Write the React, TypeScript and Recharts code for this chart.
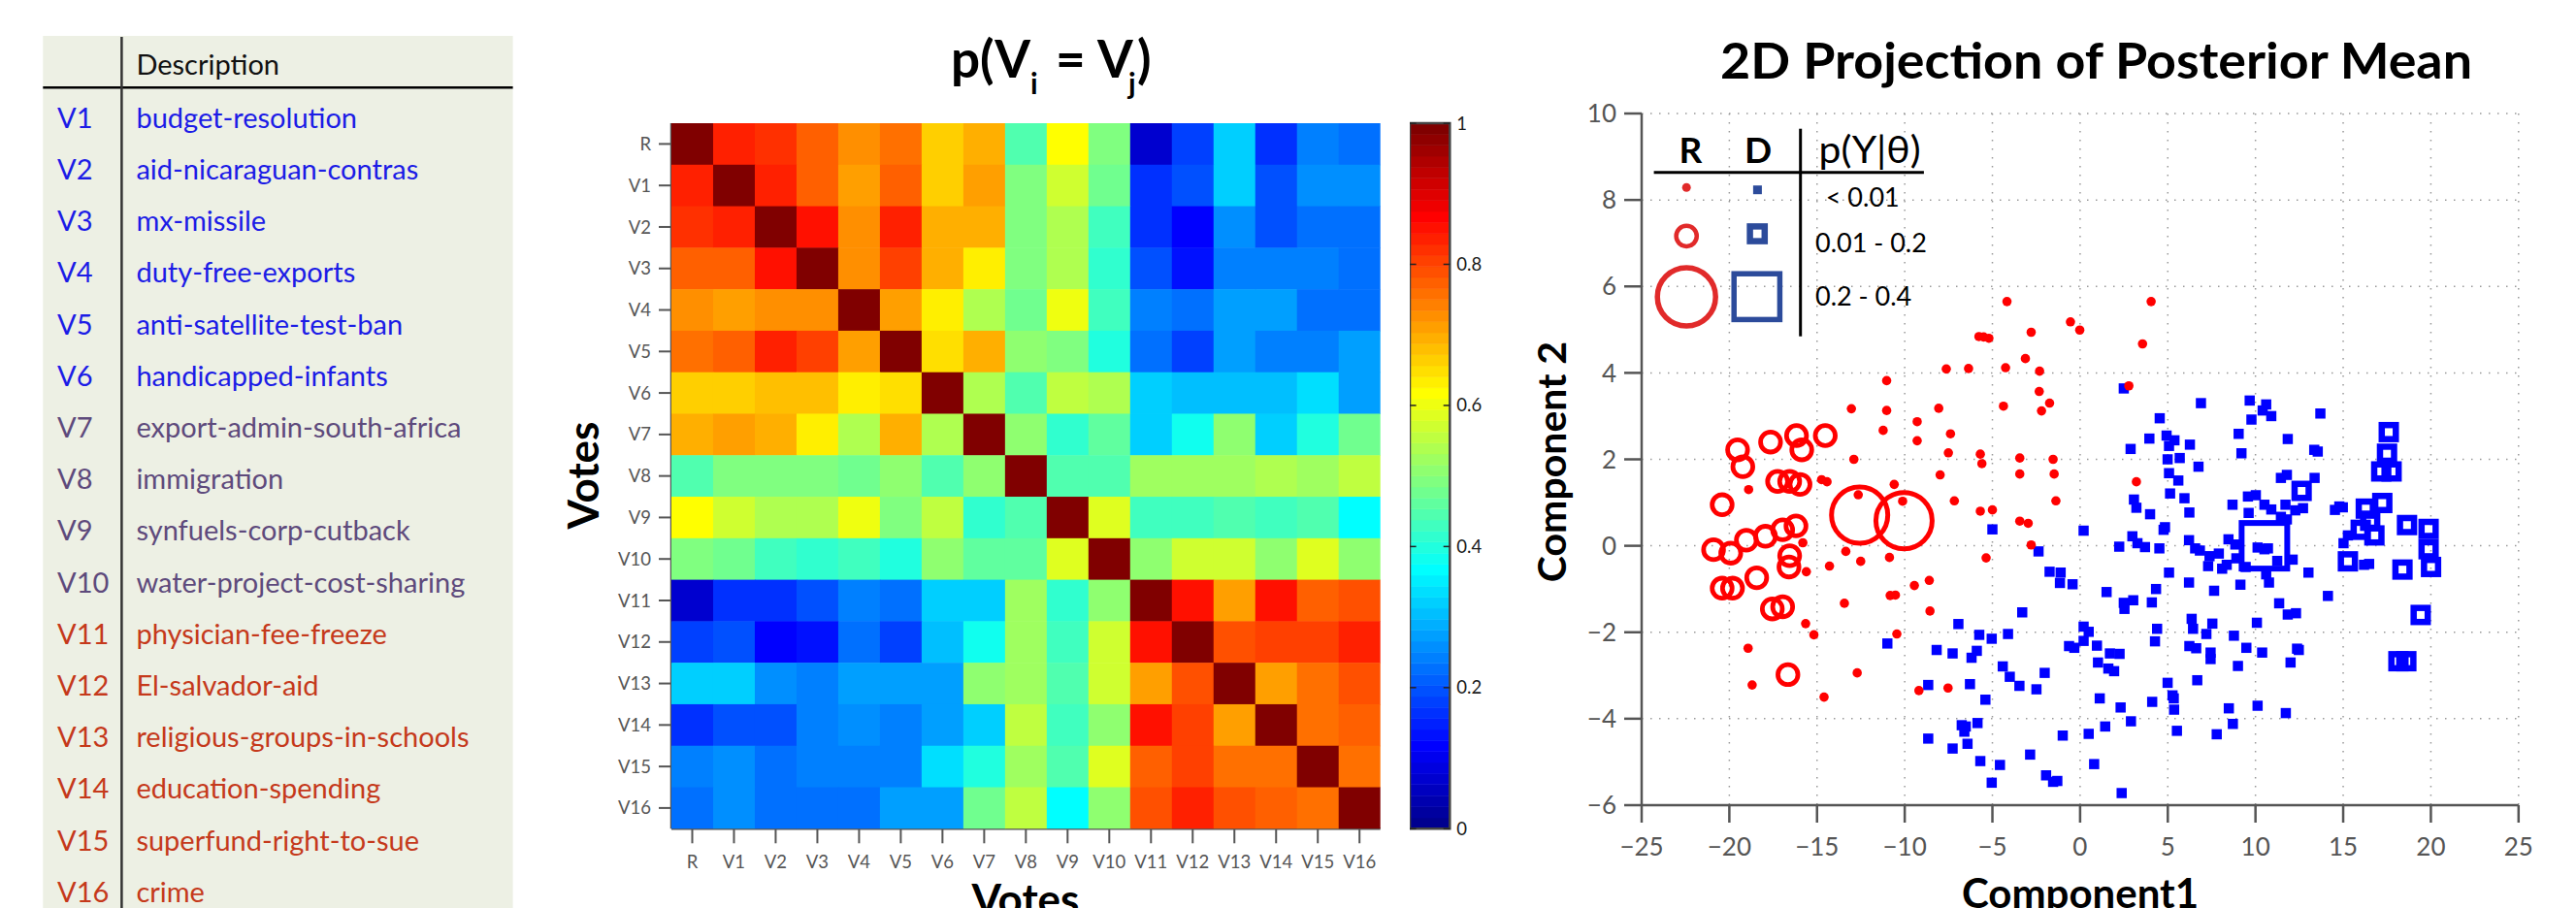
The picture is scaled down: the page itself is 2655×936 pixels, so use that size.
import React from 'react';
import {
  ScatterChart, Scatter, XAxis, YAxis, CartesianGrid,
  ComposedChart, ReferenceArea, ReferenceLine,
} from 'recharts';

// ------------------------------------------------------------------ data
const voteLabels = ['R','V1','V2','V3','V4','V5','V6','V7','V8','V9','V10','V11','V12','V13','V14','V15','V16'];

// p(V_i = V_j), rows/cols in voteLabels order
const agreement: number[][] = [
  [1, .836, .82, .773, .727, .758, .664, .695, .445, .617, .492, .07, .18, .32, .164, .242, .227],
  [.836, 1, .836, .773, .711, .773, .664, .711, .492, .57, .477, .164, .195, .32, .195, .258, .258],
  [.82, .836, 1, .852, .727, .836, .695, .695, .492, .539, .43, .164, .117, .258, .195, .227, .227],
  [.773, .773, .852, 1, .727, .805, .695, .633, .492, .539, .414, .195, .133, .242, .242, .242, .227],
  [.727, .711, .727, .727, 1, .711, .633, .539, .477, .602, .43, .242, .227, .273, .273, .227, .227],
  [.758, .773, .836, .805, .711, 1, .648, .695, .508, .492, .398, .227, .18, .273, .242, .242, .273],
  [.664, .664, .68, .68, .633, .648, 1, .539, .445, .555, .539, .32, .305, .305, .305, .336, .273],
  [.695, .711, .695, .633, .539, .695, .539, 1, .508, .414, .461, .32, .383, .508, .32, .398, .477],
  [.445, .492, .492, .492, .477, .508, .445, .508, 1, .445, .445, .523, .523, .523, .539, .523, .555],
  [.617, .57, .539, .539, .602, .492, .555, .414, .445, 1, .586, .43, .43, .445, .43, .445, .367],
  [.492, .477, .43, .414, .43, .398, .508, .461, .461, .586, 1, .508, .57, .57, .508, .586, .508],
  [.07, .164, .164, .195, .242, .227, .32, .32, .523, .414, .508, 1, .852, .711, .852, .773, .789],
  [.18, .195, .117, .133, .227, .18, .305, .383, .523, .43, .57, .852, 1, .789, .805, .805, .836],
  [.32, .32, .258, .242, .273, .273, .273, .508, .523, .445, .57, .711, .789, 1, .711, .758, .789],
  [.164, .195, .195, .242, .258, .242, .273, .32, .555, .43, .508, .852, .805, .711, 1, .758, .773],
  [.242, .258, .227, .242, .242, .242, .336, .398, .523, .445, .586, .773, .805, .758, .758, 1, .758],
  [.227, .258, .227, .227, .227, .273, .273, .477, .555, .367, .508, .789, .836, .789, .773, .758, 1],
];

const voteCodes = ['V1','V2','V3','V4','V5','V6','V7','V8','V9','V10','V11','V12','V13','V14','V15','V16'];
const voteDescriptions = [
  'budget-resolution', 'aid-nicaraguan-contras', 'mx-missile', 'duty-free-exports',
  'anti-satellite-test-ban', 'handicapped-infants', 'export-admin-south-africa', 'immigration',
  'synfuels-corp-cutback', 'water-project-cost-sharing', 'physician-fee-freeze', 'El-salvador-aid',
  'religious-groups-in-schools', 'education-spending', 'superfund-right-to-sue', 'crime',
];
const voteGroups = [0,0,0,0,0,0,1,1,1,1,2,2,2,2,2,2];

const colorbarTicks = [0, 0.2, 0.4, 0.6, 0.8, 1];
const compXTicks = [-25, -20, -15, -10, -5, 0, 5, 10, 15, 20, 25];
const compYTicks = [-6, -4, -2, 0, 2, 4, 6, 8, 10];

// Republicans, p(Y|theta) < 0.01
const repLow: [number, number][] = [
  [-4.17,5.65],[-0.55,5.18],[-0.02,4.99],[-5.77,4.84],[-5.5,4.83],[-5.2,4.8],[-2.79,4.94],[-3.12,4.33],
  [-7.63,4.09],[-6.36,4.1],[-4.25,4.12],[-2.31,4.04],[-11.03,3.82],[-13.04,3.17],[-11.03,3.13],[-8.06,3.18],
  [-4.37,3.23],[-2.33,3.57],[-2.2,3.12],[-1.74,3.3],[-11.23,2.67],[-9.29,2.87],[-9.29,2.43],[-7.39,2.59],
  [-7.51,2.15],[-5.69,2.12],[4.05,5.65],[3.56,4.67],[2.78,3.7],[-12.9,2.0],[-5.6,1.9],[-3.44,2.03],
  [-1.54,2.0],[-7.98,1.64],[-3.44,1.66],[-1.48,1.66],[-14.74,1.53],[-14.43,1.48],[-18.9,1.3],[-10.6,1.42],
  [-12.65,1.18],[-10.12,1.03],[-7.17,1.04],[-1.38,1.04],[-5.69,0.8],[-5.0,0.83],[-3.44,0.57],[-2.96,0.52],
  [-2.79,0.02],[-15.81,0.07],[-13.36,-0.13],[-12.51,-0.36],[-10.87,-0.27],[-5.36,-0.28],[-14.29,-0.47],[-15.61,-0.6],
  [-8.6,-0.8],[-9.45,-0.92],[-10.83,-1.15],[-10.53,-1.14],[-13.44,-1.33],[-8.56,-1.51],[-15.65,-1.8],[-15.18,-2.06],
  [-10.45,-2.04],[-18.93,-2.37],[-12.71,-2.94],[-18.7,-3.22],[-9.19,-3.35],[-7.53,-3.29],[-14.6,-3.5],[3.21,1.48],
];
// Republicans, 0.01 - 0.2
const repMid: [number, number][] = [
  [-19.53,2.22],[-17.65,2.4],[-16.17,2.55],[-15.87,2.22],[-14.53,2.55],[-19.23,1.83],[-17.25,1.49],[-16.56,1.49],
  [-15.97,1.42],[-20.41,0.95],[-20.9,-0.09],[-19.92,-0.17],[-19.03,0.13],[-17.94,0.22],[-16.96,0.37],[-16.2,0.46],
  [-16.56,-0.23],[-16.6,-0.49],[-18.44,-0.74],[-20.41,-0.98],[-19.82,-0.98],[-17.55,-1.46],[-16.96,-1.41],[-16.66,-2.98],
];
// Republicans, 0.2 - 0.4
const repHigh: [number, number][] = [[-12.57,0.71],[-10.04,0.58]];

// Democrats, p(Y|theta) < 0.01
const demLow: [number, number][] = [
  [-5.0,0.38],[-2.37,-0.13],[-1.74,-0.6],[-1.11,-0.62],[-1.15,-0.86],[-0.43,-0.89],[-3.3,-1.54],[-6.94,-1.81],
  [-5.75,-2.06],[-5.04,-2.15],[-4.11,-2.04],[-0.63,-2.32],[-0.33,-2.36],[-10.99,-2.26],[-8.18,-2.41],[-7.27,-2.49],
  [-5.89,-2.43],[-6.19,-2.59],[-4.41,-2.79],[-4.01,-3.03],[-3.46,-3.24],[-2.02,-2.94],[-2.49,-3.32],[-8.66,-3.22],
  [-6.28,-3.2],[-5.4,-3.56],[-6.75,-4.15],[-6.52,-4.18],[-6.6,-4.3],[-5.85,-4.1],[-8.66,-4.46],[-7.27,-4.69],
  [-6.42,-4.58],[-5.69,-4.98],[-4.57,-5.07],[-5.04,-5.48],[-0.99,-4.39],[-2.85,-4.83],[-1.94,-5.31],[-1.54,-5.46],
  [-1.3,-5.44],
  [2.49,3.64],[6.89,3.3],[9.67,3.36],[10.61,3.27],[10.41,3.13],[10.9,3.0],[9.77,2.92],[13.7,3.06],
  [4.54,2.95],[9.04,2.59],[4.93,2.55],[5.38,2.44],[3.95,2.48],[6.26,2.34],[2.88,2.24],[5.07,2.31],
  [11.84,2.47],[13.35,2.22],[13.55,2.18],[9.2,2.14],
  [4.99,2.0],[5.68,2.03],[6.75,1.83],[5.07,1.68],[5.6,1.51],[5.13,1.21],[5.95,1.1],[6.23,0.77],
  [3.07,1.07],[3.21,0.88],[3.99,0.73],[0.2,0.35],[4.84,0.43],[4.76,0.37],[2.98,0.22],[3.27,0.06],
  [3.7,-0.03],[2.23,-0.02],[4.52,-0.06],[6.21,0.13],[6.56,-0.06],[6.83,-0.11],[7.38,-0.24],[7.91,-0.18],
  [7.3,-0.47],[8.1,-0.53],[8.36,-0.44],[8.46,0.15],[8.85,0.03],[8.91,-0.29],[9.44,-0.49],[5.07,-0.62],
  [6.21,-0.85],[9.14,-0.9],[7.64,-1.04],[10.61,-0.66],[10.77,-0.85],[10.12,-0.04],[10.51,-0.08],[10.71,-0.06],
  [11.24,-0.35],[12.12,-0.32],[13.02,-0.62],[14.13,-1.16],[11.35,-1.33],[11.84,-1.59],[12.31,-1.56],[10.08,-1.78],
  [8.77,-2.08],[9.48,-2.36],[10.38,-2.47],[12.37,-2.38],[12.47,-2.41],[12.0,-2.7],[9.0,-2.78],[7.54,-1.8],
  [6.36,-1.69],[6.44,-1.92],[7.2,-2.04],[6.23,-2.32],[6.62,-2.37],[7.44,-2.47],[7.44,-2.62],[6.68,-3.11],
  [4.99,-3.17],[5.27,-3.46],[5.34,-3.53],[5.36,-3.79],[5.52,-4.28],[8.48,-3.76],[10.12,-3.7],[11.73,-3.87],
  [8.71,-4.12],[7.79,-4.36],[4.33,-1.0],[4.09,-1.31],[3.03,-1.26],[2.49,-1.32],[2.53,-1.46],[1.51,-1.07],
  [0.2,-1.87],[0.49,-1.99],[0.2,-2.2],[0.96,-2.31],[1.7,-2.49],[2.25,-2.5],[1.02,-2.7],[1.61,-2.84],
  [1.94,-2.9],[4.27,-2.21],[4.39,-1.92],[1.12,-3.53],[2.31,-3.74],[4.11,-3.61],[2.9,-4.06],[1.43,-4.18],
  [0.49,-4.35],[0.8,-5.05],[2.37,-5.72],[11.45,1.57],[11.79,1.64],[13.37,1.57],[9.57,1.14],[10.02,1.17],
  [8.69,0.95],[9.61,0.76],[10.51,0.95],[10.9,0.84],[11.71,0.95],[12.27,0.82],[12.71,0.87],[11.45,0.67],
  [11.79,0.61],[14.53,0.83],[14.78,0.91],[14.98,0.89],[15.27,0.24],[15.02,0.06],[16.19,-0.44],[16.48,-0.42],
];
// Democrats, 0.01 - 0.2
const demMid: [number, number][] = [
  [12.63,1.27],[17.6,2.63],[17.5,2.13],[17.17,1.72],[17.76,1.72],[17.23,0.99],[16.29,0.86],[16.54,0.58],
  [16.78,0.24],[16.0,0.37],[18.64,0.48],[19.87,0.39],[19.87,-0.08],[20.01,-0.49],[15.27,-0.36],[18.38,-0.55],
  [19.42,-1.6],[18.6,-2.67],[18.15,-2.67],
];
// Democrats, 0.2 - 0.4
const demHigh: [number, number][] = [[10.51,0.0]];

const likelihoodBins = ['< 0.01', '0.01 - 0.2', '0.2 - 0.4'];

// ------------------------------------------------------------------ styles
const FONT = 'Lato, "Open Sans", sans-serif';
const HEAT = { left: 692, top: 127, w: 730.7, h: 727.3 };
const CB = { left: 1452.7, top: 127, w: 41.3, h: 727.3 };
const SC = { left: 1691.8, top: 117, w: 903.8, h: 713 };
const CELL_W = HEAT.w / 17;
const CELL_H = HEAT.h / 17;
const RED = '#ff0000';
const BLUE = '#0000ff';
const LEG_RED = '#e12a2a';
const LEG_BLUE = '#2c4b9b';
const groupColors = ['#1c1ce6', '#5e4a7c', '#c5391b'];

// MATLAB jet(64)
const jet = (v: number) => {
  const i = Math.max(1, Math.min(64, Math.floor(v * 64) + 1));
  const c = (t: number) => Math.round(255 * Math.max(0, Math.min(1, t)));
  const r = c(Math.min((i - 24) / 16, (72 - i) / 16));
  const g = c(Math.min((i - 8) / 16, (56 - i) / 16));
  const b = c(Math.min((i + 8) / 16, (40 - i) / 16));
  return `rgb(${r},${g},${b})`;
};

const heatCells = agreement.flatMap((row, r) => row.map((v, c) => ({ x: c, y: r, v })));
const colorBands = Array.from({ length: 64 }, (_, k) => ({ lo: k / 64, hi: (k + 1) / 64, color: jet((k + 0.5) / 64) }));
const toPts = (a: [number, number][]) => a.map(([x, y]) => ({ x, y }));

const minus = (v: number) => (v < 0 ? '\u2212' + Math.abs(v) : String(v));

const HeatCell = (p: any) => (
  <rect x={p.cx - CELL_W / 2} y={p.cy - CELL_H / 2} width={CELL_W + 0.5} height={CELL_H + 0.5} fill={jet(p.payload.v)} />
);
const dotShape = (r: number, color: string) => (p: any) => <circle cx={p.cx} cy={p.cy} r={r} fill={color} />;
const ringShape = (r: number, sw: number, color: string) => (p: any) => (
  <circle cx={p.cx} cy={p.cy} r={r} fill="none" stroke={color} strokeWidth={sw} />
);
const squareShape = (s: number, color: string) => (p: any) => (
  <rect x={p.cx - s / 2} y={p.cy - s / 2} width={s} height={s} fill={color} />
);
const hollowShape = (s: number, sw: number, color: string) => (p: any) => (
  <rect x={p.cx - s / 2} y={p.cy - s / 2} width={s} height={s} fill="none" stroke={color} strokeWidth={sw} />
);

const axisGray = '#555';

export default function App() {
  return (
    <div style={{ position: 'fixed', left: 0, top: 0, width: 2655, height: 936, background: '#fff', overflow: 'hidden', fontFamily: FONT }}>
      {/* Heatmap */}
      <div style={{ position: 'absolute', left: HEAT.left - 100, top: HEAT.top - 10 }}>
        <ScatterChart width={100 + HEAT.w + 10} height={10 + HEAT.h + 60} margin={{ top: 10, right: 10, bottom: 0, left: 0 }}>
          <XAxis type="number" dataKey="x" domain={[-0.5, 16.5]} allowDataOverflow
            ticks={voteLabels.map((_, i) => i)} interval={0} tickFormatter={(i: number) => voteLabels[i]}
            height={60} tickSize={15} tickMargin={13}
            axisLine={{ stroke: axisGray, strokeWidth: 2.5 }} tickLine={{ stroke: axisGray, strokeWidth: 2 }}
            tick={{ fill: '#555', fontSize: 18.5, fontFamily: FONT }} />
          <YAxis type="number" dataKey="y" domain={[-0.5, 16.5]} allowDataOverflow reversed
            ticks={voteLabels.map((_, i) => i)} interval={0} tickFormatter={(i: number) => voteLabels[i]}
            width={100} tickSize={13} tickMargin={8}
            axisLine={{ stroke: axisGray, strokeWidth: 2.5 }} tickLine={{ stroke: axisGray, strokeWidth: 2 }}
            tick={{ fill: '#555', fontSize: 18.5, fontFamily: FONT }} />
          <Scatter data={heatCells} shape={HeatCell} isAnimationActive={false} />
        </ScatterChart>
      </div>

      {/* Colorbar */}
      <div style={{ position: 'absolute', left: CB.left, top: CB.top - 15 }}>
        <ComposedChart width={CB.w + 50} height={CB.h + 30} data={colorBands} margin={{ top: 15, right: 0, bottom: 15, left: 0 }}>
          <XAxis type="number" dataKey="lo" domain={[0, 1]} allowDataOverflow hide />
          <YAxis type="number" orientation="right" domain={[0, 1]} allowDataOverflow ticks={colorbarTicks} interval={0}
            width={50} tickSize={0} tickMargin={7} axisLine={false} tickLine={false}
            tick={{ fill: '#1a1a1a', fontSize: 18.5, fontFamily: FONT }} />
          {colorBands.map((b, k) => (
            <ReferenceArea key={k} x1={0} x2={1} y1={b.lo} y2={b.hi} fill={b.color} fillOpacity={1}
              stroke={b.color} strokeWidth={0.6} ifOverflow="visible" />
          ))}
          {colorbarTicks.map((t) => (
            <ReferenceLine key={'l' + t} segment={[{ x: 0, y: t }, { x: 0.16, y: t }]} stroke="#222" strokeWidth={1.5} ifOverflow="visible" />
          ))}
          {colorbarTicks.map((t) => (
            <ReferenceLine key={'r' + t} segment={[{ x: 0.84, y: t }, { x: 1, y: t }]} stroke="#222" strokeWidth={1.5} ifOverflow="visible" />
          ))}
          <ReferenceArea x1={0} x2={1} y1={0} y2={1} fill="none" stroke="#444" strokeWidth={2.5} ifOverflow="visible" />
        </ComposedChart>
      </div>

      {/* Scatter */}
      <div style={{ position: 'absolute', left: SC.left - 110, top: SC.top - 20 }}>
        <ScatterChart width={110 + SC.w + 40} height={20 + SC.h + 70} margin={{ top: 20, right: 40, bottom: 0, left: 0 }}>
          <CartesianGrid stroke="#999" strokeDasharray="1.5 7.5" strokeWidth={1.5} />
          <XAxis type="number" dataKey="x" domain={[-25, 25]} allowDataOverflow ticks={compXTicks} interval={0}
            tickFormatter={minus} height={70} tickSize={18} tickMargin={16}
            axisLine={{ stroke: axisGray, strokeWidth: 2.5 }} tickLine={{ stroke: axisGray, strokeWidth: 2.5 }}
            tick={{ fill: '#555', fontSize: 26, fontFamily: FONT }} />
          <YAxis type="number" dataKey="y" domain={[-6, 10]} allowDataOverflow ticks={compYTicks} interval={0}
            tickFormatter={minus} width={110} tickSize={18} tickMargin={8}
            axisLine={{ stroke: axisGray, strokeWidth: 2.5 }} tickLine={{ stroke: axisGray, strokeWidth: 2.5 }}
            tick={{ fill: '#555', fontSize: 26, fontFamily: FONT }} />
          <Scatter data={toPts(demLow)} shape={squareShape(10.5, BLUE)} isAnimationActive={false} />
          <Scatter data={toPts(demMid)} shape={hollowShape(14.5, 6.5, BLUE)} isAnimationActive={false} />
          <Scatter data={toPts(demHigh)} shape={hollowShape(47, 6, BLUE)} isAnimationActive={false} />
          <Scatter data={toPts(repLow)} shape={dotShape(4.8, RED)} isAnimationActive={false} />
          <Scatter data={toPts(repMid)} shape={ringShape(10.3, 4.8, RED)} isAnimationActive={false} />
          <Scatter data={toPts(repHigh)} shape={ringShape(29, 5, RED)} isAnimationActive={false} />
        </ScatterChart>
      </div>

      {/* Text, table and legend overlay */}
      <svg width={2655} height={936} style={{ position: 'absolute', left: 0, top: 0, pointerEvents: 'none' }} fontFamily={FONT}>
        {/* table */}
        <rect x={44.3} y={37} width={484.3} height={900} fill="#edf0e4" />
        <line x1={44.3} x2={528.6} y1={90.3} y2={90.3} stroke="#000" strokeWidth={2.5} />
        <line x1={125.4} x2={125.4} y1={38} y2={936} stroke="#333" strokeWidth={2.5} />
        <text x={140.4} y={77.3} fontSize={29} fill="#111">Description</text>
        {voteCodes.map((c, i) => (
          <g key={c} fill={groupColors[voteGroups[i]]} fontSize={29}>
            <text x={59} y={131.7 + 53.2 * i}>{c}</text>
            <text x={140.4} y={131.7 + 53.2 * i}>{voteDescriptions[i]}</text>
          </g>
        ))}

        {/* heatmap title and labels */}
        <text x={980} y={80} fontSize={53} fontWeight={700} fill="#000">
          p(V
          <tspan fontSize={30} dy={17}>i</tspan>
          <tspan x={1088} dy={-17}>=</tspan>
          <tspan x={1131}>V</tspan>
          <tspan x={1163} fontSize={30} dy={17}>j</tspan>
          <tspan x={1172} dy={-17}>)</tspan>
        </text>
        <text transform="translate(617,490) rotate(-90)" textAnchor="middle" fontSize={44} fontWeight={700} fill="#000">Votes</text>
        <text x={1057} y={943} textAnchor="middle" fontSize={44} fontWeight={700} fill="#000">Votes</text>

        {/* scatter title and labels */}
        <text x={1773} y={81} fontSize={52} fontWeight={700} fill="#000" textLength={775} lengthAdjust="spacingAndGlyphs">
          2D Projection of Posterior Mean
        </text>
        <text transform="translate(1614,476) rotate(-90)" textAnchor="middle" fontSize={41} fontWeight={700} fill="#000">Component 2</text>
        <text x={2144} y={936} textAnchor="middle" fontSize={42} fontWeight={700} fill="#000">Component1</text>

        {/* legend table */}
        <text x={1742.5} y={168.3} textAnchor="middle" fontSize={37} fontWeight={700} fill="#000">R</text>
        <text x={1812} y={168.3} textAnchor="middle" fontSize={37} fontWeight={700} fill="#000">D</text>
        <text x={1874.6} y={168.3} fontSize={38} fill="#000" textLength={105} lengthAdjust="spacingAndGlyphs">p(Y|θ)</text>
        <line x1={1704.6} x2={1982.9} y1={177.7} y2={177.7} stroke="#000" strokeWidth={3} />
        <line x1={1855.7} x2={1855.7} y1={132.7} y2={346.7} stroke="#000" strokeWidth={3} />

        <circle cx={1738.2} cy={193.3} r={4.5} fill={LEG_RED} />
        <rect x={1811.4 - 4.5} y={195.7 - 4.5} width={9} height={9} fill={LEG_BLUE} />
        <text x={1881.8} y={212.7} fontSize={27} fill="#000">{likelihoodBins[0]}</text>

        <circle cx={1738.2} cy={243.3} r={10.6} fill="none" stroke={LEG_RED} strokeWidth={4.5} />
        <rect x={1811.2 - 7.6} y={241 - 7.6} width={15.2} height={15.2} fill="none" stroke={LEG_BLUE} strokeWidth={6.5} />
        <text x={1871} y={260} fontSize={27} fill="#000">{likelihoodBins[1]}</text>

        <circle cx={1738.2} cy={306} r={30} fill="none" stroke={LEG_RED} strokeWidth={5.5} />
        <rect x={1810.8 - 23.6} y={305.8 - 23.6} width={47.2} height={47.2} fill="none" stroke={LEG_BLUE} strokeWidth={5.5} />
        <text x={1871} y={315} fontSize={27} fill="#000">{likelihoodBins[2]}</text>
      </svg>
    </div>
  );
}
